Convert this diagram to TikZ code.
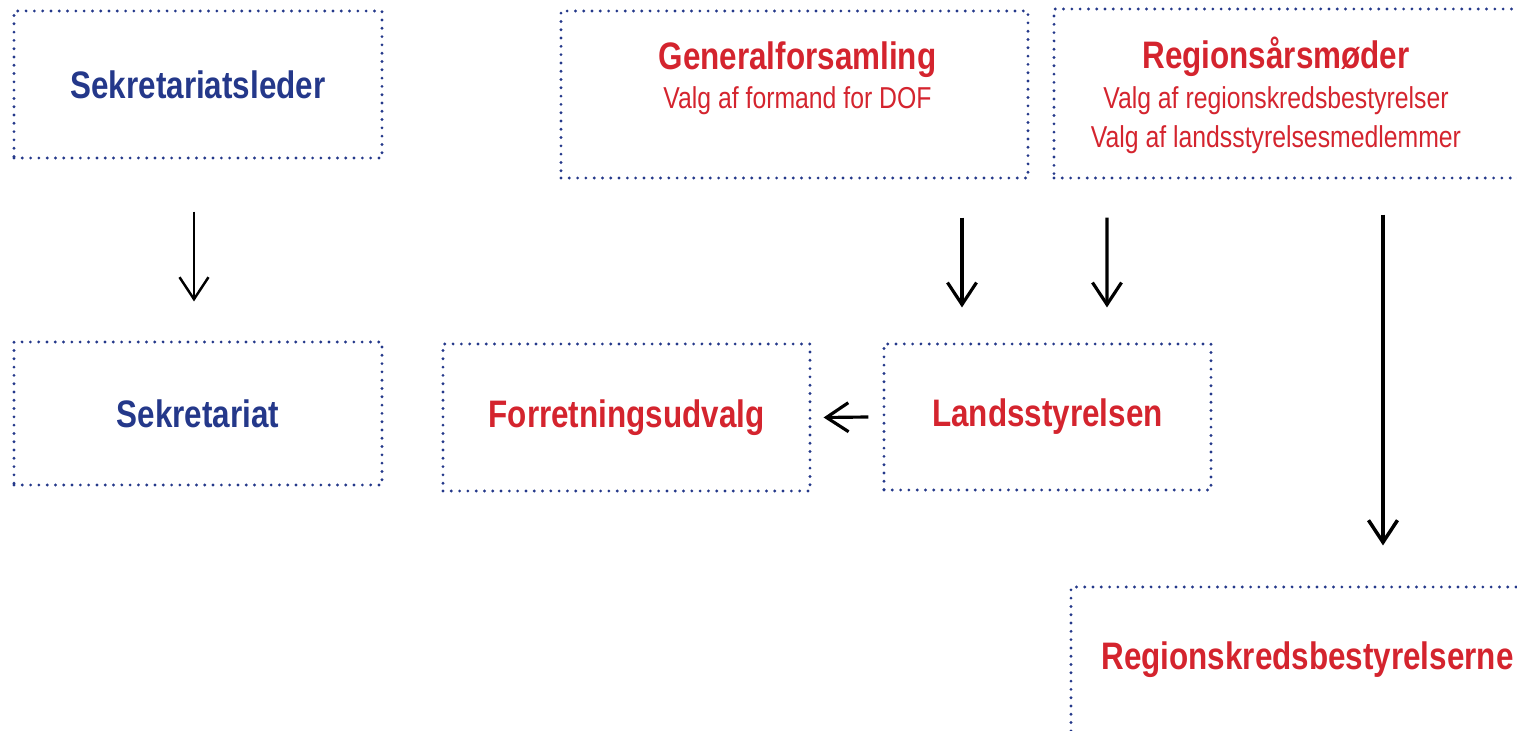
\documentclass[tikz,border=0pt]{standalone}
\usepackage{fontspec}
\setmainfont{Liberation Sans}[FakeStretch=0.82]
\usepackage{xcolor}
\usepackage{tikz}
\usetikzlibrary{calc, positioning, arrows.meta}
\definecolor{DOFblue}{RGB}{36, 56, 138}
\definecolor{DOFred}{RGB}{212, 36, 46}
\tikzset{
	dotbox/.style={draw=DOFblue, line width=0.9pt, line cap=round, dash pattern=on 0pt off 2.36pt, inner sep=0pt, align=center},
	boxtitle/.style={font=\fontsize{10.9}{11.2}\selectfont\bfseries},
	boxsub/.style={align=center, text=DOFred, inner sep=0pt, font=\fontsize{8.6}{11.2}\selectfont},
	arr/.style={-{Straight Barb[length=0.22cm, width=0.29cm]}, line width=0.9pt, black},
}
\newcommand*{\ttl}[1]{{\fontsize{10.9}{11.2}\selectfont\bfseries #1}}

\begin{document}
\begin{tikzpicture}
\useasboundingbox (0,0) rectangle (15.17,-7.31);
\clip (0,0) rectangle (15.17,-7.31);

\node[dotbox, boxtitle, text=DOFblue, minimum width=3.68cm, minimum height=1.47cm] (sleder) at (1.98,-0.845) {Sekretariatsleder};
\node[dotbox, boxtitle, text=DOFblue, minimum width=3.68cm, minimum height=1.43cm] (sekr) at (1.98,-4.135) {Sekretariat};

\node[dotbox, minimum width=4.67cm, minimum height=1.67cm] (genf) at (7.945,-0.945) {};
\node[boxsub] (genf-txt) at (7.975,-0.785) {\ttl{Generalforsamling}\\Valg af formand for DOF};

\node[dotbox, minimum width=4.76cm, minimum height=1.69cm] (regaar) at (12.92,-0.935) {};
\node[boxsub] (regaar-txt) at (12.76,-0.955) {\ttl{Regionsårsmøder}\\Valg af regionskredsbestyrelser\\Valg af landsstyrelsesmedlemmer};

\node[dotbox, boxtitle, text=DOFred, minimum width=3.67cm, minimum height=1.47cm] (fu) at (6.265,-4.175) {Forretningsudvalg};
\node[dotbox, boxtitle, text=DOFred, minimum width=3.27cm, minimum height=1.46cm] (lands) at (10.475,-4.17) {Landsstyrelsen};
\node[dotbox, boxtitle, text=DOFred, minimum width=4.73cm, minimum height=1.46cm] (rkb) at (13.075,-6.60) {Regionskredsbestyrelserne};

\draw[arr, line width=0.7pt] ($(sleder.south)+(-0.04,-0.52)$) -- ($(sekr.north)+(-0.04,0.39)$);
\draw[arr] ($(genf.south)+(1.675,-0.38)$) -- ($(lands.north)+(-0.855,0.35)$);
\draw[arr] ($(regaar.south)+(-1.85,-0.38)$) -- ($(lands.north)+(0.595,0.35)$);
\draw[arr, line width=1pt] ($(regaar.south)+(0.91,-0.35)$) -- ($(rkb.north)+(0.755,0.40)$);
\draw[arr] ($(lands.west)+(-0.14,0)$) -- ($(fu.east)+(0.12,0)$);

\end{tikzpicture}
\end{document}
